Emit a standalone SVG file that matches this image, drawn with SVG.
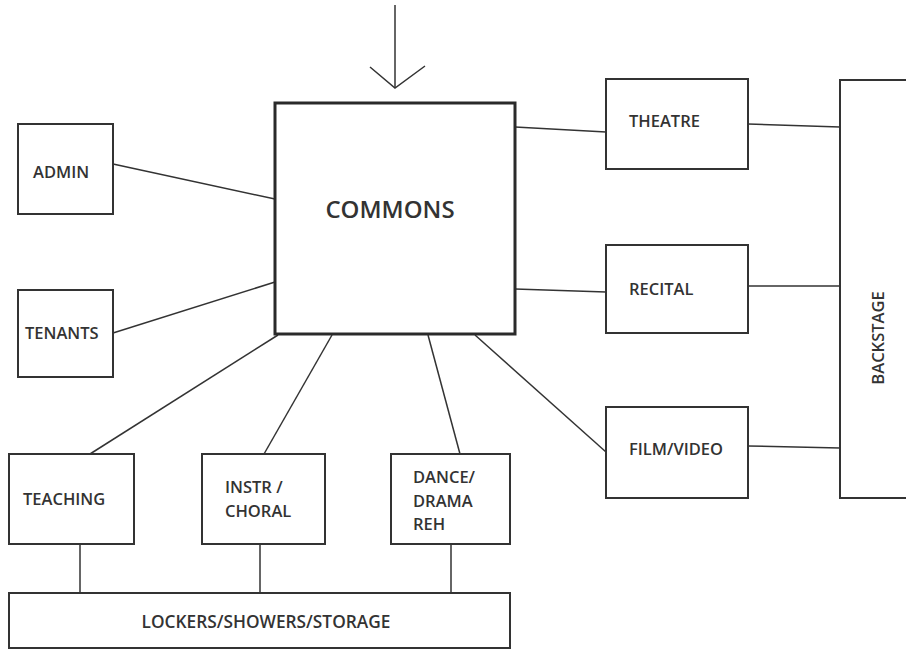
<svg xmlns="http://www.w3.org/2000/svg" width="906" height="649" viewBox="0 0 906 649">
<style>
.box{fill:#fff;stroke:#333;stroke-width:2}
.main{fill:#fff;stroke:#2a2a2a;stroke-width:3}
.ln{stroke:#333;stroke-width:1.5;fill:none}
text{font-family:"Open Sans","Noto Sans","DejaVu Sans",sans-serif;font-size:16.5px;font-weight:600;fill:#333}
.big{font-size:24px}
.wide{font-size:17.3px}
</style>
<rect width="906" height="649" fill="#fff"/>
<g id="connectors">
<line class="ln" x1="395" y1="5" x2="395" y2="88"/>
<polyline class="ln" points="370,67 395,88 425,66"/>
<line class="ln" x1="113" y1="164" x2="275" y2="199"/>
<line class="ln" x1="113" y1="333" x2="275" y2="282"/>
<line class="ln" x1="515" y1="127" x2="606" y2="132"/>
<line class="ln" x1="748" y1="124" x2="840" y2="127"/>
<line class="ln" x1="515" y1="289" x2="606" y2="292"/>
<line class="ln" x1="748" y1="286" x2="840" y2="286"/>
<line class="ln" x1="475" y1="335" x2="606" y2="452"/>
<line class="ln" x1="748" y1="446" x2="840" y2="448"/>
<line class="ln" x1="278" y1="335" x2="90" y2="454"/>
<line class="ln" x1="332" y1="335" x2="264" y2="454"/>
<line class="ln" x1="428" y1="335" x2="460" y2="454"/>
<line class="ln" x1="80" y1="544" x2="80" y2="593"/>
<line class="ln" x1="260" y1="544" x2="260" y2="593"/>
<line class="ln" x1="451" y1="544" x2="451" y2="593"/>
</g>
<g id="commons">
<rect class="main" x="275" y="103" width="240" height="231"/>
<text class="big" x="390" y="218" text-anchor="middle">COMMONS</text>
</g>
<g id="admin">
<rect class="box" x="18" y="124" width="95" height="90"/>
<text x="33" y="178">ADMIN</text>
</g>
<g id="tenants">
<rect class="box" x="18" y="290" width="95" height="87"/>
<text x="25" y="339">TENANTS</text>
</g>
<g id="theatre">
<rect class="box" x="606" y="79" width="142" height="90"/>
<text x="629" y="127">THEATRE</text>
</g>
<g id="recital">
<rect class="box" x="606" y="245" width="142" height="88"/>
<text x="629" y="295">RECITAL</text>
</g>
<g id="film-video">
<rect class="box" x="606" y="407" width="142" height="91"/>
<text x="629" y="455">FILM/VIDEO</text>
</g>
<g id="backstage">
<rect class="box" x="840" y="80" width="80" height="418"/>
<text x="884" y="338" text-anchor="middle" transform="rotate(-90 884 338)">BACKSTAGE</text>
</g>
<g id="teaching">
<rect class="box" x="9" y="454" width="125" height="90"/>
<text x="23" y="505">TEACHING</text>
</g>
<g id="instr-choral">
<rect class="box" x="202" y="454" width="123" height="90"/>
<text x="225" y="493">INSTR /</text>
<text x="225" y="517">CHORAL</text>
</g>
<g id="dance-drama">
<rect class="box" x="391" y="454" width="119" height="90"/>
<text x="413" y="483">DANCE/</text>
<text x="413" y="507">DRAMA</text>
<text x="413" y="530">REH</text>
</g>
<g id="lockers">
<rect class="box" x="9" y="593" width="501" height="55"/>
<text class="wide" x="266" y="628" text-anchor="middle">LOCKERS/SHOWERS/STORAGE</text>
</g>
</svg>
